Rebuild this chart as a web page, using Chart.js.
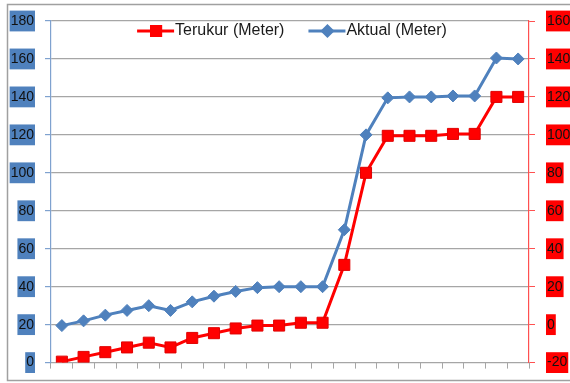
<!DOCTYPE html>
<html>
<head>
<meta charset="utf-8">
<script src="https://cdn.jsdelivr.net/npm/chart.js@4/dist/chart.umd.min.js"></script>
<style>
  body { margin: 0; background: #fff; }
  #wrap { width: 570px; height: 383px; }
</style>
</head>
<body>
<div id="wrap"><canvas id="levelChart"></canvas></div>
<script>
// 22 readings, no x labels in the original
const points = ['1','2','3','4','5','6','7','8','9','10','11','12','13','14','15','16','17','18','19','20','21','22'];
const terukur = [-19.5, -17, -14.5, -12, -9.5, -12, -7, -4.5, -2, -0.5, -0.5, 1, 1, 31.5, 80, 99.5, 99.5, 99.5, 100.5, 100.5, 120, 120];
const aktual = [19.5, 22, 25, 27.5, 30, 27.5, 32, 35, 37.5, 39.5, 40, 40, 40, 70, 120, 139.5, 140, 140, 140.5, 140.5, 160.5, 160];

const RED = '#FF0000';
const BLUE = '#4F81BD';
const GRID = '#A6A6A6';
const FONT = "'Liberation Sans', Arial, sans-serif";

// frame round the whole chart + legend inside the plot
const framePlugin = {
    id: 'frame',
    beforeDraw(chart) {
        const c = chart.ctx;
        c.save();
        c.fillStyle = '#fff';
        c.fillRect(0, 0, chart.width, chart.height);
        c.strokeStyle = '#A0A0A0';
        c.lineWidth = 1.5;
        c.strokeRect(7.5, 4.5, 620, 376);
        c.restore();
    },
    afterDraw(chart) {
        const c = chart.ctx;
        const items = chart.data.datasets.map(ds => ({
            text: ds.label, color: ds.borderColor, style: ds.pointStyle
        }));
        c.save();
        c.font = '16px ' + FONT;
        c.textBaseline = 'middle';
        const lineW = 38, gap = 24;
        let total = 0;
        items.forEach((it, i) => {
            it.w = c.measureText(it.text).width;
            total += lineW + it.w + (i ? gap : 0);
        });
        let x = 292 - total / 2;
        const y = 31;
        items.forEach(it => {
            c.strokeStyle = it.color;
            c.lineWidth = 3;
            c.beginPath();
            c.moveTo(x, y);
            c.lineTo(x + lineW - 1, y);
            c.stroke();
            Chart.helpers.drawPoint(c, {
                pointStyle: it.style, radius: it.style === 'rect' ? 6.5 : 5,
                borderWidth: 1, rotation: 0
            }, x + lineW / 2, y);
            c.fillStyle = it.color;
            c.fill();
            c.fillStyle = '#1a1a1a';
            c.fillText(it.text, x + lineW, y);
            x += lineW + it.w + gap;
        });
        c.restore();
    }
};

const ctx = document.getElementById('levelChart').getContext('2d');

const levelChart = new Chart(ctx, {
    type: 'line',
    data: {
        labels: points,
        datasets: [{
            label: 'Terukur (Meter)',
            data: terukur,
            yAxisID: 'yRight',
            borderColor: RED,
            backgroundColor: RED,
            borderWidth: 3,
            pointStyle: 'rect',
            pointRadius: 7.8,
            pointBorderWidth: 1,
            pointBorderColor: '#E00000',
            pointBackgroundColor: RED,
            tension: 0
        }, {
            label: 'Aktual (Meter)',
            data: aktual,
            yAxisID: 'yLeft',
            borderColor: BLUE,
            backgroundColor: BLUE,
            borderWidth: 3,
            pointStyle: 'rectRot',
            pointRadius: 6,
            pointBorderWidth: 1,
            pointBorderColor: BLUE,
            pointBackgroundColor: BLUE,
            tension: 0
        }]
    },
    options: {
        responsive: true,
        maintainAspectRatio: false,
        animation: false,
        layout: { padding: { top: 21, left: 0, right: 0, bottom: 0 } },
        plugins: {
            legend: { display: false },
            tooltip: { enabled: false }
        },
        scales: {
            x: {
                offset: true,
                grid: {
                    offset: true,
                    drawOnChartArea: false,
                    tickLength: 6,
                    tickColor: GRID
                },
                border: { color: GRID, width: 1 },
                ticks: { display: false },
                afterFit(scale) { scale.height = 18; }
            },
            yLeft: {
                position: 'left',
                min: 0,
                max: 180,
                ticks: {
                    stepSize: 20,
                    padding: 11,
                    color: '#111',
                    font: { size: 14, family: FONT },
                    showLabelBackdrop: true,
                    backdropColor: BLUE,
                    backdropPadding: { top: 2, bottom: 2, left: 1, right: 1 }
                },
                grid: { color: GRID, lineWidth: 1.2, tickLength: 6, tickColor: '#7FA2CF' },
                border: { color: '#7FA2CF', width: 1.2 },
                afterFit(scale) { scale.width = 51; }
            },
            yRight: {
                position: 'right',
                min: -20,
                max: 160,
                ticks: {
                    stepSize: 20,
                    padding: 12,
                    color: '#111',
                    font: { size: 14, family: FONT },
                    showLabelBackdrop: true,
                    backdropColor: RED,
                    backdropPadding: { top: 2, bottom: 2, left: 1, right: 1 }
                },
                grid: { drawOnChartArea: false, tickLength: 6, tickColor: '#FF5050' },
                border: { color: '#FF5050', width: 1.2 },
                afterFit(scale) { scale.width = 41; }
            }
        }
    },
    plugins: [framePlugin]
});
</script>
</body>
</html>
